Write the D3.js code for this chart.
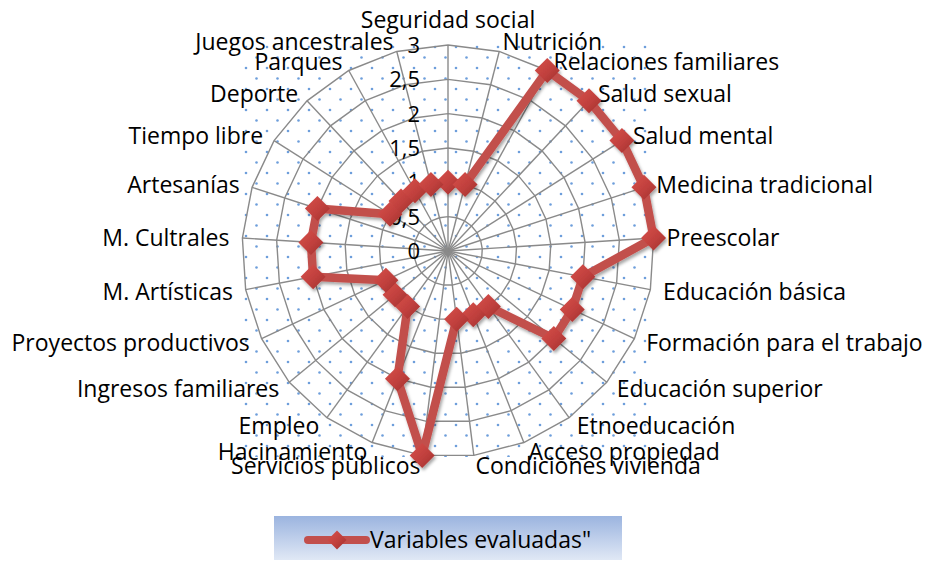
<!DOCTYPE html>
<html>
<head>
<meta charset="utf-8">
<script src="https://cdn.jsdelivr.net/npm/d3@7"></script>
<style>
  html, body { margin: 0; padding: 0; background: #ffffff; }
  svg { display: block; }
  text { font-family: "Open Sans", "Lato", sans-serif; fill: #000; }
</style>
</head>
<body>
<svg id="chart" width="925" height="561"></svg>
<script>
const categories = [
  "Seguridad social", "Nutrición", "Relaciones familiares", "Salud sexual",
  "Salud mental", "Medicina tradicional", "Preescolar", "Educación básica",
  "Formación para el trabajo", "Educación superior", "Etnoeducación",
  "Acceso propiedad", "Condiciones vivienda", "Servicios publicos",
  "Hacinamiento", "Empleo", "Ingresos familiares", "Proyectos productivos",
  "M. Artísticas", "M. Cultrales", "Artesanías", "Tiempo libre", "Deporte",
  "Parques", "Juegos ancestrales"
];
const seriesValues = [1, 1, 3, 3, 3, 3, 3, 2, 2, 2, 1, 1, 1, 3, 2, 1, 1, 1, 2, 2, 2, 1, 1, 1, 1];
const tickValues = [0, 0.5, 1, 1.5, 2, 2.5, 3];
const tickLabels = ["0", "0,5", "1", "1,5", "2", "2,5", "3"];
const seriesName = "Variables evaluadas\"";

const svg = d3.select("#chart");
const cx = 448, cy = 251, R = 206;
const n = categories.length;
const rScale = d3.scaleLinear().domain([0, 3]).range([0, R]);
const aScale = d3.scaleLinear().domain([0, n]).range([0, 2 * Math.PI]);
const pt = (i, v) => [cx + rScale(v) * Math.sin(aScale(i)), cy - rScale(v) * Math.cos(aScale(i))];

const defs = svg.append("defs");
const pat = defs.append("pattern").attr("id", "dots").attr("patternUnits", "userSpaceOnUse")
  .attr("width", 21).attr("height", 21);
pat.append("circle").attr("cx", 15).attr("cy", 5).attr("r", 1.3).attr("fill", "#6d9edb");
pat.append("circle").attr("cx", 4.5).attr("cy", 15.5).attr("r", 1.3).attr("fill", "#6d9edb");

const mg = defs.append("linearGradient").attr("id", "mgrad").attr("x1", 0).attr("y1", 0).attr("x2", 1).attr("y2", 1);
mg.append("stop").attr("offset", "0%").attr("stop-color", "#d84f4b");
mg.append("stop").attr("offset", "55%").attr("stop-color", "#c0403d");
mg.append("stop").attr("offset", "100%").attr("stop-color", "#9e2e2c");

const lg = defs.append("linearGradient").attr("id", "lgrad").attr("x1", 0).attr("y1", 0).attr("x2", 0).attr("y2", 1);
lg.append("stop").attr("offset", "0%").attr("stop-color", "#9bb4df");
lg.append("stop").attr("offset", "100%").attr("stop-color", "#e0e8f5");

const sh = defs.append("filter").attr("id", "shadow").attr("x", "-20%").attr("y", "-20%").attr("width", "140%").attr("height", "140%");
sh.append("feDropShadow").attr("dx", 1.5).attr("dy", 2.5).attr("stdDeviation", 1.6)
  .attr("flood-color", "#000").attr("flood-opacity", 0.35);

// plot area dotted fill
svg.append("rect").attr("x", cx - R).attr("y", cy - R).attr("width", 2 * R).attr("height", 2 * R)
  .attr("fill", "url(#dots)");

// grid rings (polygons)
const ringLine = d3.lineRadial().angle((d, i) => aScale(i)).radius(d => rScale(d)).curve(d3.curveLinearClosed);
const gridG = svg.append("g").attr("transform", `translate(${cx},${cy})`);
tickValues.filter(v => v > 0).forEach(v => {
  gridG.append("path").attr("d", ringLine(categories.map(() => v)))
    .attr("fill", "none").attr("stroke", "#8a8a8a").attr("stroke-width", 1.4);
});
// spokes
gridG.selectAll("line.spoke").data(categories).join("line")
  .attr("x1", 0).attr("y1", 0)
  .attr("x2", (d, i) => rScale(3) * Math.sin(aScale(i)))
  .attr("y2", (d, i) => -rScale(3) * Math.cos(aScale(i)))
  .attr("stroke", "#8a8a8a").attr("stroke-width", 1.4);

// axis tick labels
svg.append("g").selectAll("text").data(tickValues).join("text")
  .attr("x", cx - 28).attr("y", d => cy - rScale(d))
  .attr("dy", "0.36em").attr("text-anchor", "end")
  .attr("font-size", 22)
  .text((d, i) => tickLabels[i]);

// category labels
svg.append("g").selectAll("text").data(categories).join("text")
  .attr("font-size", 23)
  .attr("x", (d, i) => {
    const s = Math.sin(aScale(i));
    return i === 0 ? cx : cx + 219 * s;
  })
  .attr("y", (d, i) => {
    const c = Math.cos(aScale(i));
    return i === 0 ? cy - 231 : cy - 216 * c;
  })
  .attr("dy", "0.36em")
  .attr("text-anchor", (d, i) => i === 0 ? "middle" : (Math.sin(aScale(i)) > 0 ? "start" : "end"))
  .text(d => d);

// series line
const seriesG = svg.append("g").attr("filter", "url(#shadow)");
seriesG.append("path")
  .attr("transform", `translate(${cx},${cy})`)
  .attr("d", ringLine(seriesValues))
  .attr("fill", "none").attr("stroke", "#c24f4c").attr("stroke-width", 8.5)
  .attr("stroke-linejoin", "round");

const diamond = s => `M0,${-s}L${s},0L0,${s}L${-s},0Z`;
seriesG.selectAll("path.mk").data(seriesValues).join("path")
  .attr("class", "mk")
  .attr("transform", (d, i) => { const p = pt(i, d); return `translate(${p[0]},${p[1]})`; })
  .attr("d", diamond(12.5))
  .attr("fill", "url(#mgrad)");

// legend
const leg = svg.append("g");
leg.append("rect").attr("x", 274).attr("y", 516).attr("width", 348).attr("height", 44).attr("fill", "url(#lgrad)");
leg.append("line").attr("x1", 308).attr("x2", 366).attr("y1", 540).attr("y2", 540)
  .attr("stroke", "#c24f4c").attr("stroke-width", 8).attr("stroke-linecap", "round");
leg.append("path").attr("transform", "translate(337,540)").attr("d", diamond(9.5)).attr("fill", "url(#mgrad)");
leg.append("text").attr("x", 370).attr("y", 540).attr("dy", "0.36em").attr("font-size", 23).text(seriesName);
</script>
</body>
</html>
